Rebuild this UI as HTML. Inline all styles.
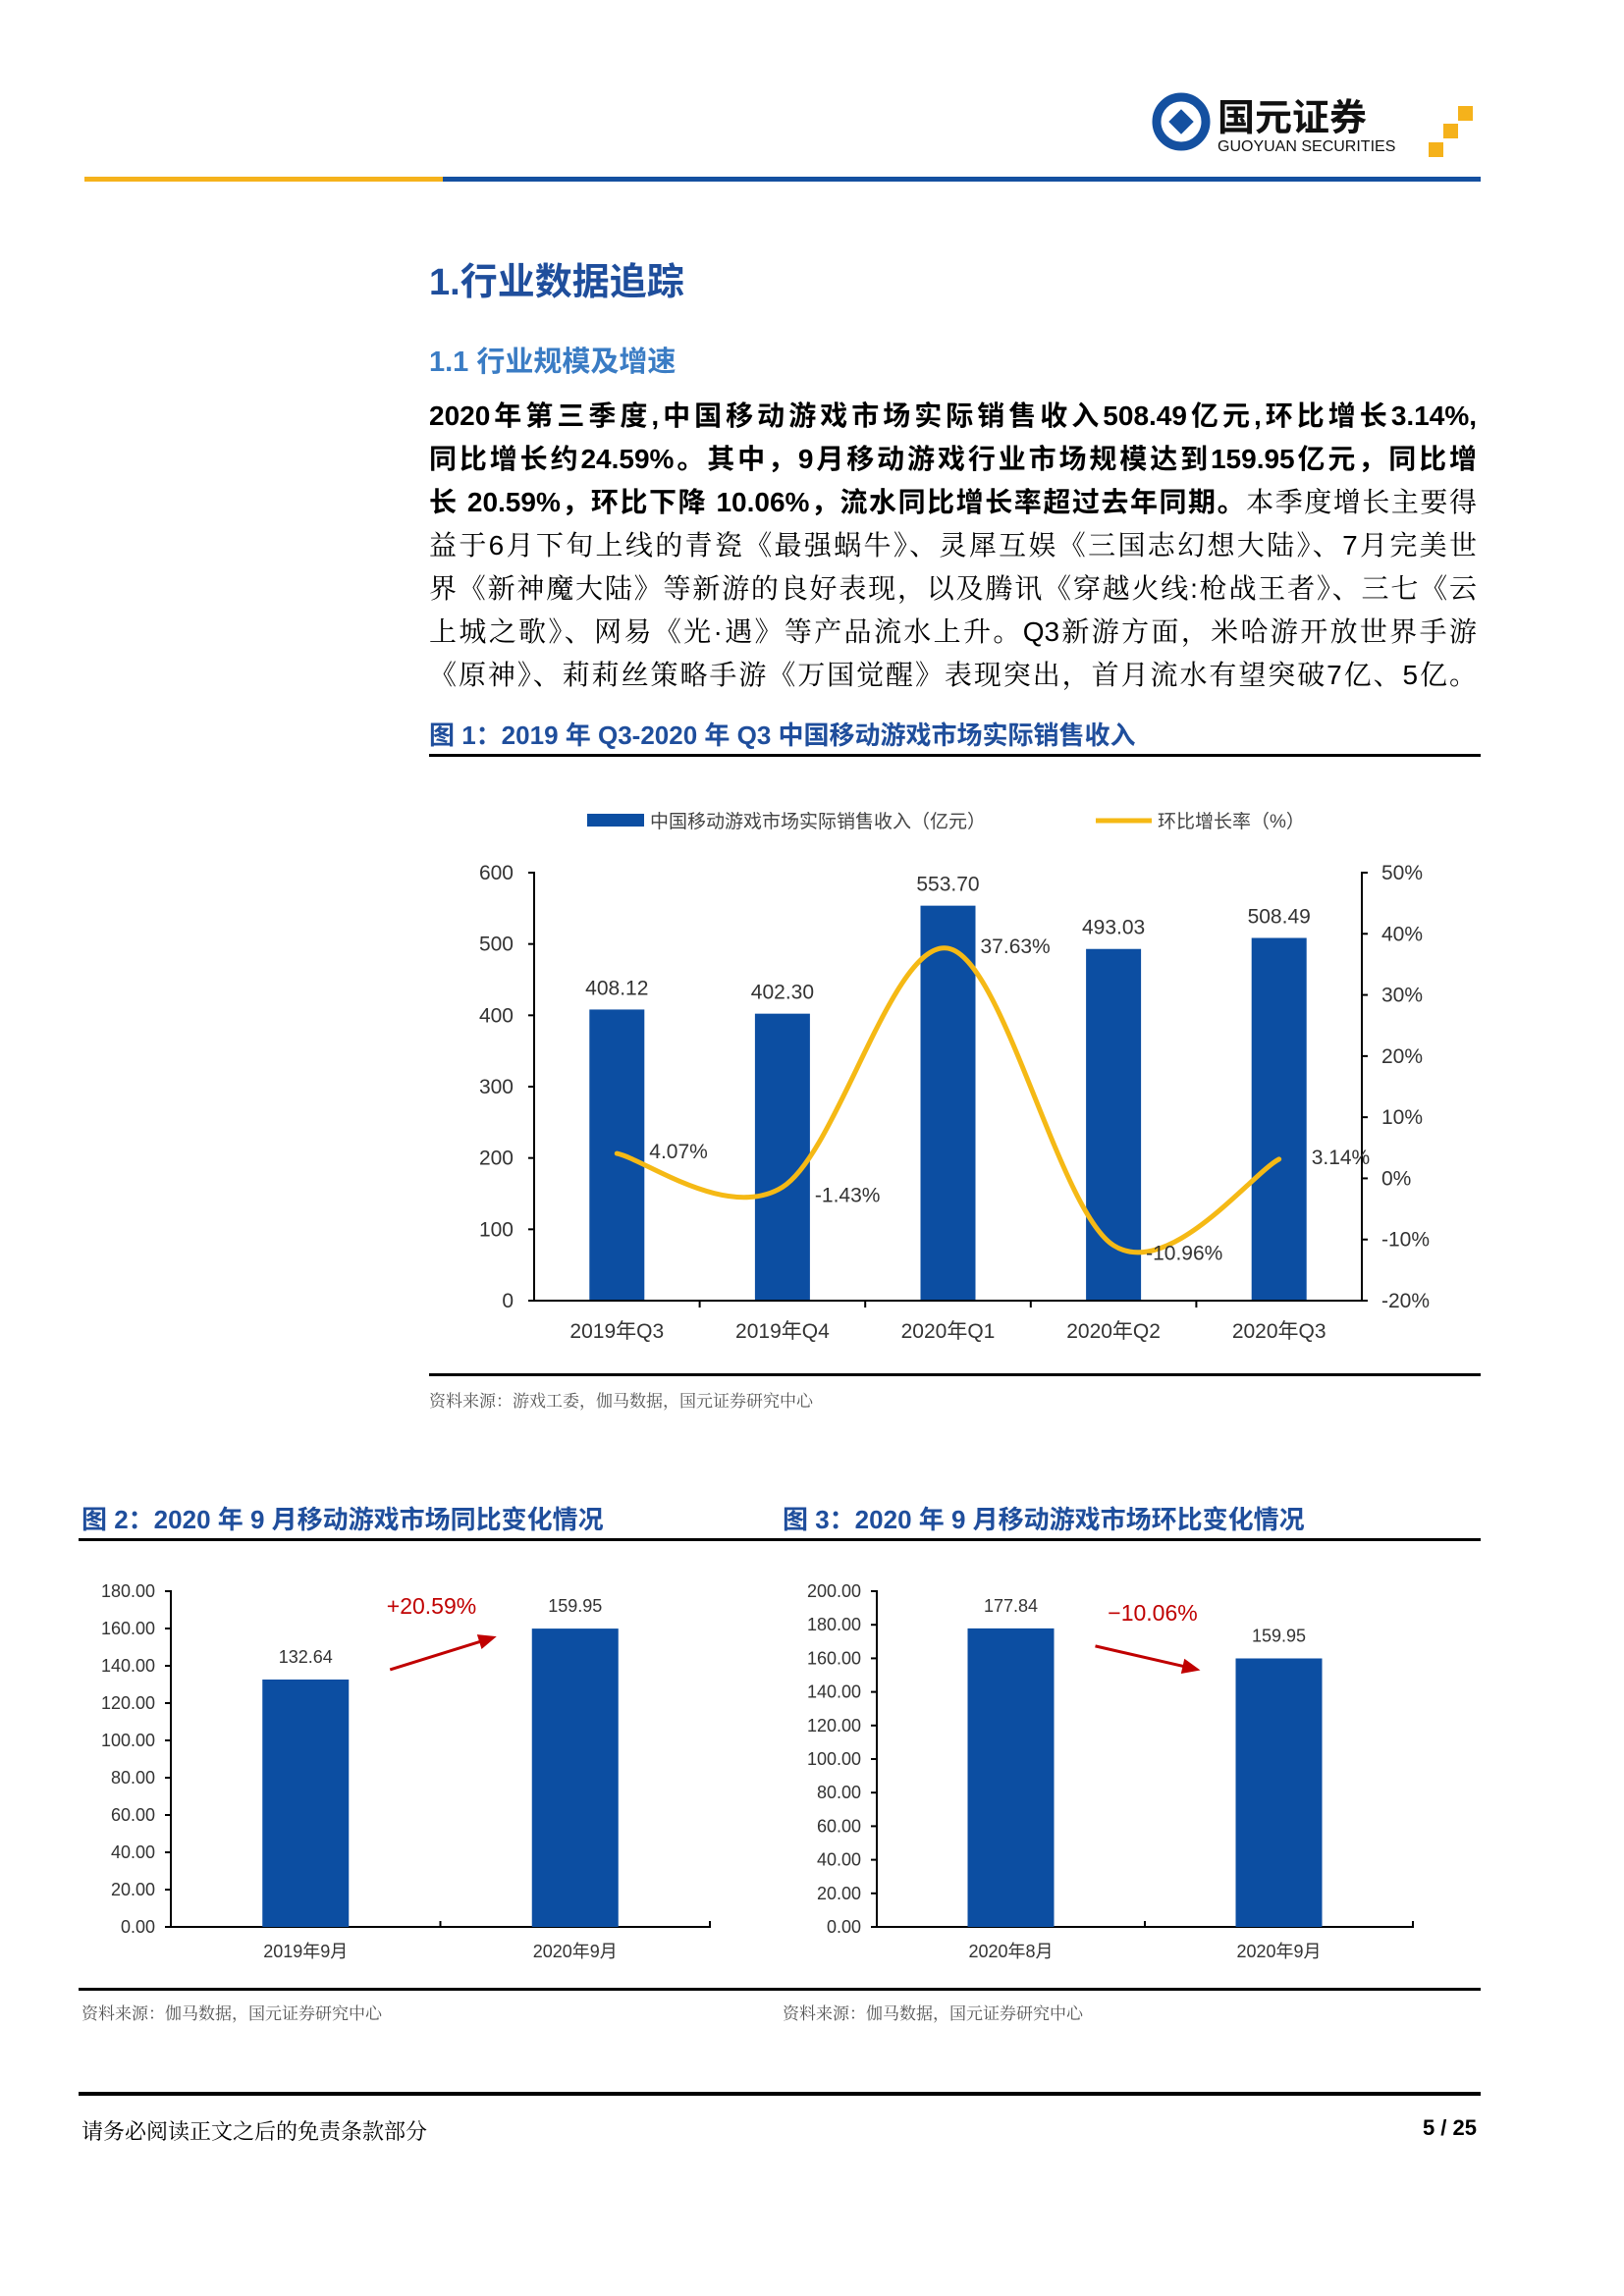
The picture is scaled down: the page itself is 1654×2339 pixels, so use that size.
<!DOCTYPE html>
<html><head><meta charset="utf-8">
<style>
body{margin:0;background:#fff;}
#page{position:relative;width:1654px;height:2339px;overflow:hidden;background:#fff;font-family:"Liberation Sans","Noto Sans CJK SC",sans-serif;color:#000;}
.abs{position:absolute;}
.para{position:absolute;left:437px;width:1067px;font-size:28px;line-height:44px;font-family:"Liberation Sans","Noto Serif CJK SC",serif;}
.para div{height:44px;text-align:justify;text-align-last:justify;white-space:nowrap;overflow:visible;}
.b{font-weight:bold;font-family:"Liberation Sans","Noto Sans CJK SC",sans-serif;}
.ft{color:#1f4e9c;font-weight:bold;font-size:26px;}
.src{font-size:17px;color:#555;font-family:"Liberation Serif","Noto Serif CJK SC",serif;}
svg text{font-family:"Liberation Sans","Noto Sans CJK SC",sans-serif;}
</style></head><body>
<div id="page">
 <svg class="abs" style="left:1170px;top:88px" width="340" height="75">
  <circle cx="33" cy="36" r="25" fill="none" stroke="#1450a0" stroke-width="9"/>
  <rect x="24" y="27" width="18" height="18" fill="#1450a0" transform="rotate(45 33 36)"/>
  <text x="70" y="45" font-size="38" font-weight="bold" fill="#111">国元证券</text>
  <text x="70" y="66" font-size="16" fill="#111">GUOYUAN SECURITIES</text>
  <rect x="285" y="57" width="15" height="15" fill="#f5b21b"/>
  <rect x="300" y="38" width="15" height="15" fill="#f5b21b"/>
  <rect x="315" y="20" width="15" height="15" fill="#f5b21b"/>
 </svg>
 <div class="abs" style="left:86px;top:180px;width:365px;height:5px;background:#f5b21b"></div>
 <div class="abs" style="left:451px;top:180px;width:1057px;height:5px;background:#1450a0"></div>

 <div class="abs" style="left:437px;top:256px;font-size:38px;font-weight:bold;color:#1f4e9c">1.行业数据追踪</div>
 <div class="abs" style="left:437px;top:345px;font-size:29px;font-weight:bold;color:#3a7cc4">1.1 行业规模及增速</div>

 <div class="para" style="top:402px">
  <div class="b">2020年第三季度,中国移动游戏市场实际销售收入508.49亿元,环比增长3.14%,</div>
  <div class="b">同比增长约24.59%。其中，9月移动游戏行业市场规模达到159.95亿元，同比增</div>
  <div><span class="b">长 20.59%，环比下降 10.06%，流水同比增长率超过去年同期。</span>本季度增长主要得</div>
  <div>益于6月下旬上线的青瓷《最强蜗牛》、灵犀互娱《三国志幻想大陆》、7月完美世</div>
  <div>界《新神魔大陆》等新游的良好表现，以及腾讯《穿越火线:枪战王者》、三七《云</div>
  <div>上城之歌》、网易《光·遇》等产品流水上升。Q3新游方面，米哈游开放世界手游</div>
  <div>《原神》、莉莉丝策略手游《万国觉醒》表现突出，首月流水有望突破7亿、5亿。</div>
 </div>

 <div class="abs ft" style="left:437px;top:729px">图 1：2019 年 Q3-2020 年 Q3 中国移动游戏市场实际销售收入</div>
 <div class="abs" style="left:437px;top:768px;width:1071px;height:3px;background:#000"></div>

 <svg id="c1" class="abs" style="left:0;top:0" width="1654" height="1400"></svg>

 <div class="abs" style="left:437px;top:1399px;width:1071px;height:3px;background:#000"></div>
 <div class="abs src" style="left:437px;top:1413px">资料来源：游戏工委，伽马数据，国元证券研究中心</div>

 <div class="abs ft" style="left:83px;top:1528px">图 2：2020 年 9 月移动游戏市场同比变化情况</div>
 <div class="abs ft" style="left:797px;top:1528px">图 3：2020 年 9 月移动游戏市场环比变化情况</div>
 <div class="abs" style="left:80px;top:1567px;width:1428px;height:3px;background:#000"></div>

 <svg id="c2" class="abs" style="left:0;top:0" width="1654" height="2020"></svg>
 <svg id="c3" class="abs" style="left:0;top:0" width="1654" height="2020"></svg>

 <div class="abs" style="left:80px;top:2025px;width:1428px;height:3px;background:#000"></div>
 <div class="abs src" style="left:83px;top:2037px">资料来源：伽马数据，国元证券研究中心</div>
 <div class="abs src" style="left:797px;top:2037px">资料来源：伽马数据，国元证券研究中心</div>

 <div class="abs" style="left:80px;top:2131px;width:1428px;height:4px;background:#000"></div>
 <div class="abs" style="left:83px;top:2155px;font-size:22px;font-family:'Liberation Serif','Noto Serif CJK SC',serif">请务必阅读正文之后的免责条款部分</div>
 <div class="abs" style="left:1400px;top:2155px;width:104px;text-align:right;font-size:22px;font-weight:bold">5 / 25</div>
</div>
<script>
// Figure 1 data
const c1Cats=['2019年Q3','2019年Q4','2020年Q1','2020年Q2','2020年Q3'];
const c1Rev=[408.12,402.30,553.70,493.03,508.49];
const c1Rate=[4.07,-1.43,37.63,-10.96,3.14];
const c1LeftTicks=[0,100,200,300,400,500,600];
const c1RightTicks=[-20,-10,0,10,20,30,40,50];
// Figure 2 data
const c2Cats=['2019年9月','2020年9月'];
const c2Vals=[132.64,159.95];
const c2Ticks=[0,20,40,60,80,100,120,140,160,180];
// Figure 3 data
const c3Cats=['2020年8月','2020年9月'];
const c3Vals=[177.84,159.95];
const c3Ticks=[0,20,40,60,80,100,120,140,160,180,200];

const NS='http://www.w3.org/2000/svg';
function mk(svg,tag,attrs,txt){const e=document.createElementNS(NS,tag);for(const k in attrs)e.setAttribute(k,attrs[k]);if(txt!==undefined)e.textContent=txt;svg.appendChild(e);return e;}

(function(){
 const svg=document.getElementById('c1');
 const L=544,R=1387,T=889,B=1325;
 const y=v=>B-(v-0)/(600-0)*(B-T);
 const yr=v=>B-(v+20)/(70)*(B-T);
 const bw=(R-L)/c1Cats.length;
 const cx=i=>L+bw*(i+0.5);
 let e=mk(svg,'rect',{x:598,y:829,width:58,height:13,fill:'#0c4ea2'});
 
 e=mk(svg,'text',{x:662,y:843,'font-size':19,fill:'#444'},'中国移动游戏市场实际销售收入（亿元）');
 
 e=mk(svg,'line',{x1:1116,y1:836,x2:1173,y2:836,stroke:'#f5b915','stroke-width':5});
 
 e=mk(svg,'text',{x:1179,y:843,'font-size':19,fill:'#444'},'环比增长率（%）');
 
 c1Rev.forEach((v,i)=>{
  const b=mk(svg,'rect',{x:cx(i)-28,y:y(v),width:56,height:B-y(v),fill:'#0c4ea2'});
  
  const t=mk(svg,'text',{x:cx(i),y:y(v)-15,'font-size':21,fill:'#333','text-anchor':'middle'},v.toFixed(2));
  
 });
 e=mk(svg,'path',{d:`M${L-6},${T}H${L}V${B}H${R}V${T}H${R+6}`,fill:'none',stroke:'#000','stroke-width':2});
 
 c1LeftTicks.forEach(v=>{
  mk(svg,'line',{x1:L-6,y1:y(v),x2:L,y2:y(v),stroke:'#000','stroke-width':2});
  const t=mk(svg,'text',{x:523,y:y(v)+7,'font-size':21,fill:'#333','text-anchor':'end'},v);
  
 });
 c1RightTicks.forEach(v=>{
  mk(svg,'line',{x1:R,y1:yr(v),x2:R+6,y2:yr(v),stroke:'#000','stroke-width':2});
  const t=mk(svg,'text',{x:1407,y:yr(v)+7,'font-size':21,fill:'#333'},v+'%');
  
 });
 c1Cats.forEach((c,i)=>{
  if(i>0)mk(svg,'line',{x1:L+bw*i,y1:B,x2:L+bw*i,y2:B+7,stroke:'#000','stroke-width':2});
  const t=mk(svg,'text',{x:cx(i),y:B+38,'font-size':21,fill:'#333','text-anchor':'middle'},c);
  
 });
 const pts=c1Rate.map((v,i)=>[cx(i),yr(v)]);
 let d=`M${pts[0][0]},${pts[0][1]}`;
 for(let i=0;i<pts.length-1;i++){
  const p0=pts[i-1]||pts[i],p1=pts[i],p2=pts[i+1],p3=pts[i+2]||p2;
  const k=1/6;
  d+=` C${p1[0]+(p2[0]-p0[0])*k},${p1[1]+(p2[1]-p0[1])*k} ${p2[0]-(p3[0]-p1[0])*k},${p2[1]-(p3[1]-p1[1])*k} ${p2[0]},${p2[1]}`;
 }
 e=mk(svg,'path',{d:d,fill:'none',stroke:'#f5b915','stroke-width':5,'stroke-linecap':'round'});
 
 c1Rate.forEach((v,i)=>{
  const t=mk(svg,'text',{x:cx(i)+33,y:yr(v)+(v<0?15:5),'font-size':21,fill:'#333'},v.toFixed(2)+'%');
  
 });
})();

function small(id,cats,vals,ticks,L,R,T,B,max,pre){
 const svg=document.getElementById(id);
 const y=v=>B-v/max*(B-T);
 const bw=(R-L)/cats.length;
 const cx=i=>L+bw*(i+0.5);
 let e=mk(svg,'path',{d:`M${L-6},${T}H${L}V${B}H${R}V${B-6}`,fill:'none',stroke:'#000','stroke-width':2});
 
 mk(svg,'line',{x1:L+bw,y1:B,x2:L+bw,y2:B-6,stroke:'#000','stroke-width':2});
 ticks.forEach(v=>{
  mk(svg,'line',{x1:L-6,y1:y(v),x2:L,y2:y(v),stroke:'#000','stroke-width':2});
  const t=mk(svg,'text',{x:L-16,y:y(v)+6,'font-size':18,fill:'#333','text-anchor':'end'},v.toFixed(2));
  
 });
 vals.forEach((v,i)=>{
  const b=mk(svg,'rect',{x:cx(i)-44,y:y(v),width:88,height:B-y(v),fill:'#0c4ea2'});
  
  const t=mk(svg,'text',{x:cx(i),y:y(v)-17,'font-size':18,fill:'#333','text-anchor':'middle'},v.toFixed(2));
  
  const c=mk(svg,'text',{x:cx(i),y:B+31,'font-size':18,fill:'#333','text-anchor':'middle'},cats[i]);
  
 });
 const up=vals[1]>vals[0];
 const x1=cx(0)+44+42,x2=cx(1)-44-36;
 const y1=y(vals[0])+(up?-10:18), y2=y(vals[1])+(up?8:12);
 const a=Math.atan2(y2-y1,x2-x1);
 e=mk(svg,'line',{x1:x1,y1:y1,x2:x2-14*Math.cos(a),y2:y2-14*Math.sin(a),stroke:'#c00000','stroke-width':3});
 
 const hx=x2,hy=y2,s=20;
 mk(svg,'polygon',{points:`${hx},${hy} ${hx-s*Math.cos(a-0.4)},${hy-s*Math.sin(a-0.4)} ${hx-s*Math.cos(a+0.4)},${hy-s*Math.sin(a+0.4)}`,fill:'#c00000'});
 const pct=(vals[1]/vals[0]-1)*100;
 const t=mk(svg,'text',{x:(x1+x2)/2-(up?12:-5),y:Math.min(y1,y2)-(up?23:26),'font-size':23,fill:'#c00000','text-anchor':'middle'},(pct>0?'+':'−')+Math.abs(pct).toFixed(2)+'%');
 
}
small('c2',c2Cats,c2Vals,c2Ticks,174,723,1621,1963,180,'fig2');
small('c3',c3Cats,c3Vals,c3Ticks,893,1439,1621,1963,200,'fig3');
</script>
</body></html>
